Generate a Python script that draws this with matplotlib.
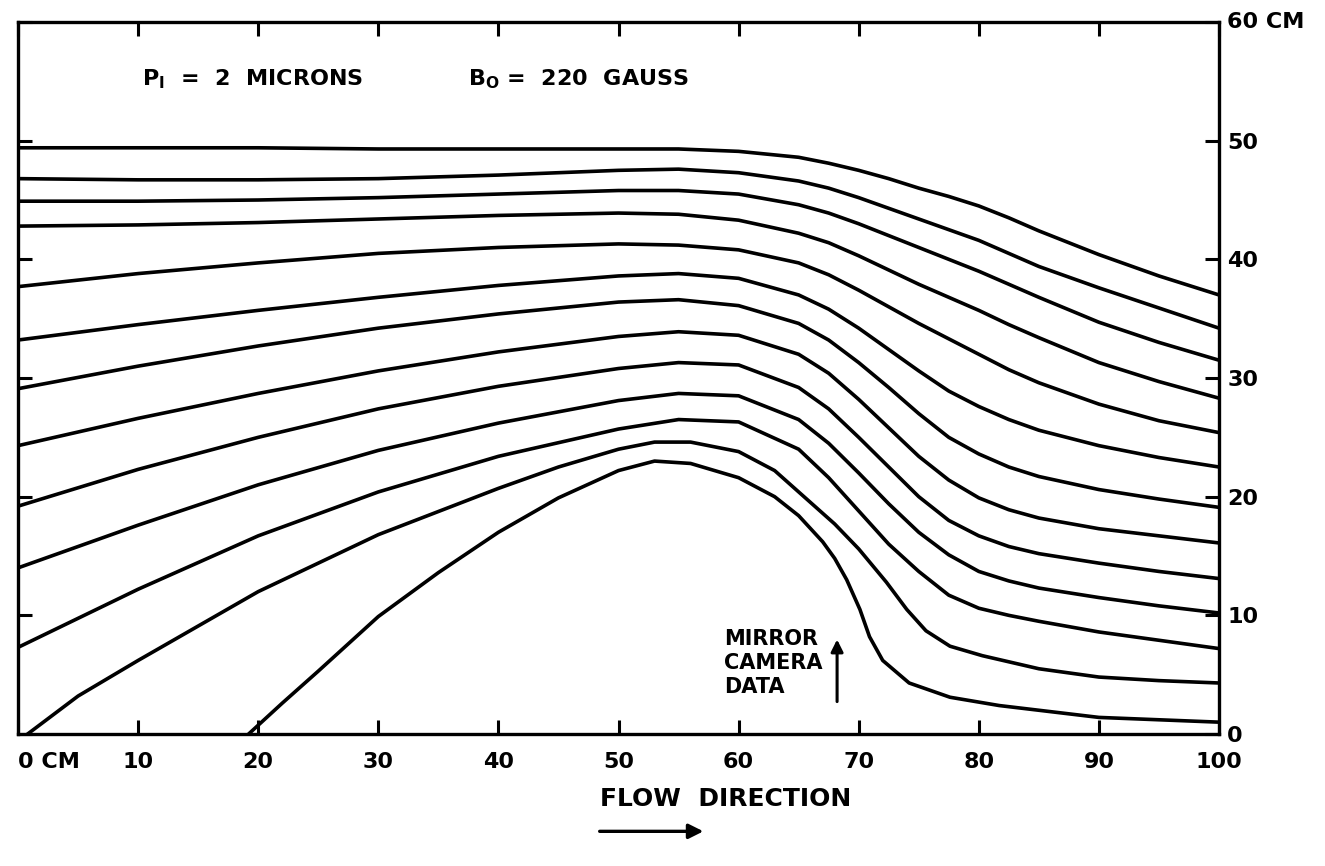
import numpy as np
import matplotlib
matplotlib.use("Agg")
import matplotlib.pyplot as plt

# streamline positions (cm)
x_common = [0, 10, 20, 30, 40, 50, 55, 60, 65, 67.5, 70, 72.5, 75, 77.5, 80, 82.5, 85, 90, 95, 100]

line1 = [49.4, 49.4, 49.4, 49.3, 49.3, 49.3, 49.3, 49.1, 48.6, 48.1, 47.5, 46.8, 46.0, 45.3, 44.5, 43.5, 42.4, 40.4, 38.6, 37.0]
line2 = [46.8, 46.7, 46.7, 46.8, 47.1, 47.5, 47.6, 47.3, 46.6, 46.0, 45.2, 44.3, 43.4, 42.5, 41.6, 40.5, 39.4, 37.6, 35.9, 34.2]
line3 = [44.9, 44.9, 45.0, 45.2, 45.5, 45.8, 45.8, 45.5, 44.6, 43.9, 43.0, 42.0, 41.0, 40.0, 39.0, 37.9, 36.8, 34.7, 33.0, 31.5]
line4 = [42.8, 42.9, 43.1, 43.4, 43.7, 43.9, 43.8, 43.3, 42.2, 41.4, 40.3, 39.1, 37.9, 36.8, 35.7, 34.5, 33.4, 31.3, 29.7, 28.3]
line5 = [37.7, 38.8, 39.7, 40.5, 41.0, 41.3, 41.2, 40.8, 39.7, 38.7, 37.4, 36.0, 34.6, 33.3, 32.0, 30.7, 29.6, 27.8, 26.4, 25.4]
line6 = [33.2, 34.5, 35.7, 36.8, 37.8, 38.6, 38.8, 38.4, 37.0, 35.8, 34.2, 32.4, 30.6, 28.9, 27.6, 26.5, 25.6, 24.3, 23.3, 22.5]
line7 = [29.1, 31.0, 32.7, 34.2, 35.4, 36.4, 36.6, 36.1, 34.6, 33.2, 31.3, 29.2, 27.0, 25.0, 23.6, 22.5, 21.7, 20.6, 19.8, 19.1]
line8 = [24.3, 26.6, 28.7, 30.6, 32.2, 33.5, 33.9, 33.6, 32.0, 30.4, 28.2, 25.8, 23.4, 21.4, 19.9, 18.9, 18.2, 17.3, 16.7, 16.1]
line9 = [19.2, 22.3, 25.0, 27.4, 29.3, 30.8, 31.3, 31.1, 29.2, 27.4, 25.0, 22.5, 20.0, 18.0, 16.7, 15.8, 15.2, 14.4, 13.7, 13.1]
line10 = [14.0, 17.6, 21.0, 23.9, 26.2, 28.1, 28.7, 28.5, 26.5, 24.5, 22.0, 19.4, 17.0, 15.1, 13.7, 12.9, 12.3, 11.5, 10.8, 10.2]
line11 = [7.3, 12.2, 16.7, 20.4, 23.4, 25.7, 26.5, 26.3, 24.0, 21.6, 18.8, 16.0, 13.7, 11.7, 10.6, 10.0, 9.5, 8.6, 7.9, 7.2]

x_line12 = [0.8, 5, 10, 20, 30, 40, 45, 50, 53, 56, 60, 63, 66, 68, 70, 72.3, 74, 75.6, 77.6, 80.3, 85, 90, 95, 100]
line12 = [0, 3.2, 6.2, 12.0, 16.8, 20.7, 22.5, 24.0, 24.6, 24.6, 23.8, 22.2, 19.5, 17.7, 15.6, 12.8, 10.5, 8.7, 7.4, 6.6, 5.5, 4.8, 4.5, 4.3]

x_line13 = [19.2, 22, 25, 30, 35, 40, 45, 50, 53, 56, 60, 63, 65, 67, 68, 69, 70.1, 70.9, 72, 74.2, 77.6, 81.7, 90, 95, 100]
line13 = [0, 2.6, 5.3, 9.9, 13.6, 17.0, 19.9, 22.2, 23.0, 22.8, 21.6, 20.0, 18.4, 16.2, 14.8, 13.0, 10.5, 8.2, 6.2, 4.3, 3.1, 2.4, 1.4, 1.2, 1.0]

x_ticks = [0, 10, 20, 30, 40, 50, 60, 70, 80, 90, 100]
x_labels = ["0 CM", "10", "20", "30", "40", "50", "60", "70", "80", "90", "100"]
y_ticks = [0, 10, 20, 30, 40, 50, 60]
y_labels = ["0", "10", "20", "30", "40", "50", "60 CM"]

plt.rcParams['font.family'] = ['DejaVu Sans']
plt.rcParams['font.weight'] = 'bold'

fig = plt.figure(figsize=(13.25, 8.66), dpi=100)
ax = fig.add_axes([0.0136, 0.1524, 0.9064, 0.8222])

for ys in [line1, line2, line3, line4, line5, line6, line7, line8, line9, line10, line11]:
    ax.plot(x_common, ys, color='black', lw=2.6, solid_joinstyle='round', solid_capstyle='round')
ax.plot(x_line12, line12, color='black', lw=2.6, solid_joinstyle='round')
ax.plot(x_line13, line13, color='black', lw=2.6, solid_joinstyle='round')

ax.set_xlim(0, 100)
ax.set_ylim(0, 60)
for s in ax.spines.values():
    s.set_linewidth(2.4)

ax.set_xticks(x_ticks)
ax.set_xticklabels(x_labels, fontsize=16, fontweight='bold')
ax.set_yticks(y_ticks)
ax.set_yticklabels(y_labels, fontsize=16, fontweight='bold')
ax.tick_params(axis='both', direction='in', length=10, width=2.2,
               top=True, bottom=True, left=True, right=True)
ax.tick_params(axis='y', labelleft=False, labelright=True, pad=6)
ax.tick_params(axis='x', pad=13)
ax.get_xticklabels()[0].set_ha('left')
ax.get_yticklabels()[-1].set_va('center')

ax.text(10.3, 55.2, r'P$_{\mathregular{I}}$  =  2  MICRONS', fontsize=16, fontweight='bold', va='center')
ax.text(37.5, 55.2, r'B$_{\mathregular{O}}$ =  220  GAUSS', fontsize=16, fontweight='bold', va='center')

ax.text(58.8, 6.0, "MIRROR\nCAMERA\nDATA", fontsize=15, fontweight='bold', va='center', ha='left',
        linespacing=1.25)
ax.annotate('', xy=(68.2, 8.2), xytext=(68.2, 2.5),
            arrowprops=dict(arrowstyle='-|>', color='black', lw=2.2, mutation_scale=18))

ax.text(58.9, -5.5, "FLOW  DIRECTION", fontsize=18, fontweight='bold', ha='center', va='center')
ax.annotate('', xy=(57.3, -8.2), xytext=(48.2, -8.2), annotation_clip=False,
            arrowprops=dict(arrowstyle='-|>', color='black', lw=2.4, mutation_scale=22))

fig.savefig('out.png', dpi=100)
